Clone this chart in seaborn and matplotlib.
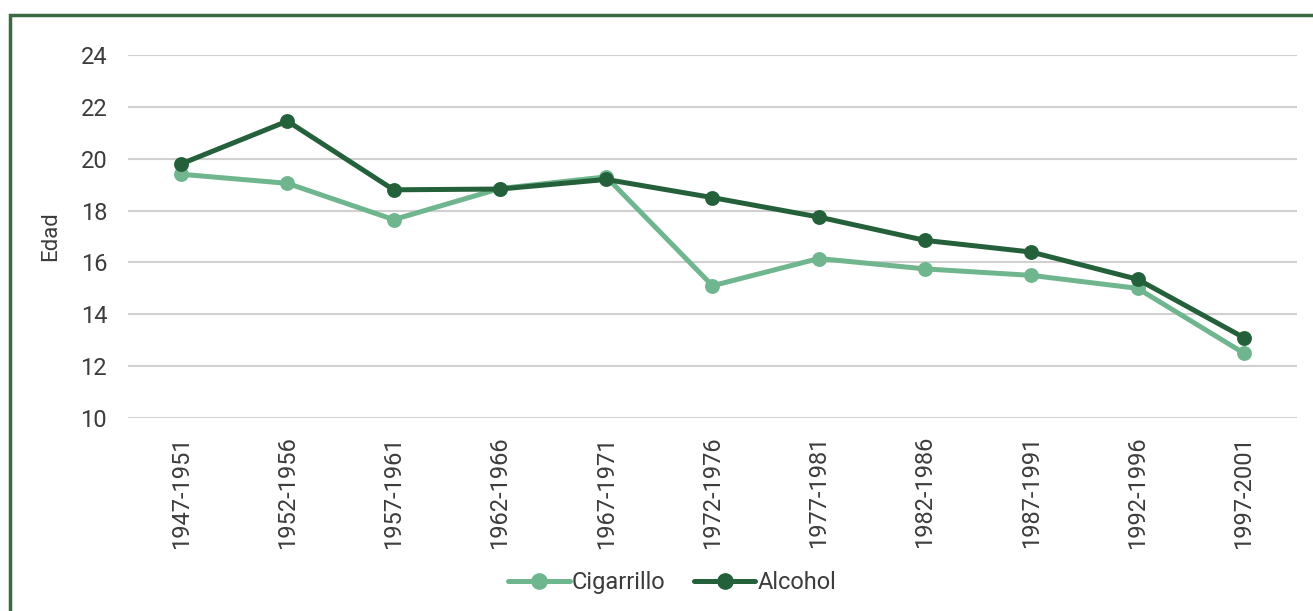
import numpy as np
import pandas as pd
import matplotlib.pyplot as plt
import matplotlib.patches as mpatches
from matplotlib.lines import Line2D
import seaborn as sns

# Data
periodos = ['1947-1951', '1952-1956', '1957-1961', '1962-1966', '1967-1971',
            '1972-1976', '1977-1981', '1982-1986', '1987-1991', '1992-1996', '1997-2001']
cigarrillo = [19.4, 19.05, 17.65, 18.85, 19.3, 15.1, 16.15, 15.75, 15.5, 15.0, 12.5]
alcohol = [19.8, 21.45, 18.8, 18.83, 19.2, 18.5, 17.75, 16.85, 16.4, 15.35, 13.1]
series = ['Cigarrillo', 'Alcohol']
colores = {'Cigarrillo': '#6fb68f', 'Alcohol': '#24613a'}

df = pd.concat([
    pd.DataFrame({'periodo': periodos, 'edad': cigarrillo, 'serie': 'Cigarrillo'}),
    pd.DataFrame({'periodo': periodos, 'edad': alcohol, 'serie': 'Alcohol'}),
])

sns.set_style('white')
plt.rcParams['font.family'] = ['Roboto', 'DejaVu Sans']
plt.rcParams['font.weight'] = 'normal'
texto = '#3c3c3c'

fig = plt.figure(figsize=(13.13, 6.11), dpi=100)
ax = fig.add_axes([0.0975, 0.3159, 0.8903, 0.5941])

sns.pointplot(data=df, x='periodo', y='edad', hue='serie', order=periodos,
              hue_order=series, palette=colores, markers='o', linestyles='-',
              markersize=8, linewidth=3.6, dodge=False, errorbar=None,
              legend=False, ax=ax)

ax.set_ylim(10, 24)
ax.set_xlim(-0.5, len(periodos) - 0.5)
ax.set_yticks(range(10, 25, 2))
ax.yaxis.grid(True, color='#d0d0d0', linewidth=1.5)
ax.set_axisbelow(True)
for s in ax.spines.values():
    s.set_visible(False)
ax.tick_params(axis='both', length=0, labelsize=17, colors=texto, pad=13)
ax.tick_params(axis='y', pad=15)
plt.setp(ax.get_xticklabels(), rotation=90)
ax.set_xlabel('')
ax.set_ylabel('Edad', fontsize=16, color=texto, labelpad=14)

handles = [Line2D([0], [0], color=colores[s], lw=3.6, marker='o', markersize=11)
           for s in series]
fig.legend(handles, series, loc='center', bbox_to_anchor=(0.512, 0.047), ncol=2,
           frameon=False, fontsize=17, handlelength=2.6, handletextpad=0.1,
           columnspacing=1.2, labelcolor=texto)

# dark green frame around the chart (cut off at right and bottom)
fig.patches.append(mpatches.Rectangle((0.0076, -0.05), 1.1, 1.0255, transform=fig.transFigure,
                                      fill=False, edgecolor='#3b6b42', linewidth=2.5))

fig.savefig('out.png', dpi=100)
